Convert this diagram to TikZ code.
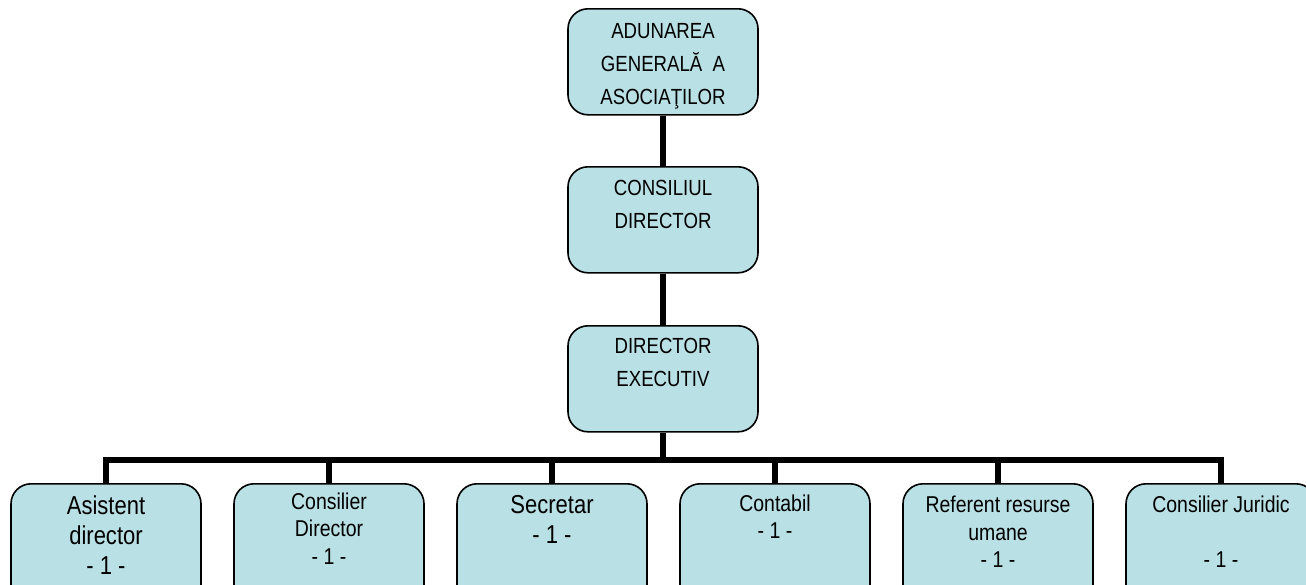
\documentclass[tikz,border=0pt]{standalone}
\usepackage{fontspec}
\setmainfont{Liberation Sans}[FakeStretch=0.85]
\usetikzlibrary{calc}

\definecolor{boxfill}{RGB}{185,224,228}

% text block at the top of a box: height, gap above first line, text
\newcommand{\boxtxt}[3]{\parbox[c][#1][t]{184pt}{\centering\vspace*{#2}#3}}

\begin{document}
\begin{tikzpicture}[x=1pt,y=-1pt,
	orgbox/.style={draw=black,line width=1.6pt,fill=boxfill,rounded corners=20pt,
		minimum width=190pt,inner sep=0pt,anchor=north},
	bigfont/.style={font=\fontsize{21.9}{33}\selectfont},
	link/.style={draw=black,line width=6pt,line join=miter}]

	\useasboundingbox (0,0) rectangle (1306,584);
	
	
	
	% upper chain
	\node[orgbox,bigfont] (ag) at (663,8) {\boxtxt{106pt}{14.3pt}{ADUNAREA\\GENERALĂ \ A\\ASOCIAŢILOR}};
	\node[orgbox,bigfont] (cd) at (663,166) {\boxtxt{106pt}{13.3pt}{CONSILIUL\\DIRECTOR}};
	\node[orgbox,bigfont] (de) at (663,325) {\boxtxt{106pt}{12.3pt}{DIRECTOR\\EXECUTIV}};
	
	
	
	% staff row
	\node[orgbox,font=\fontsize{25.9}{30}\selectfont] (asist) at (106,483) {\boxtxt{125pt}{11.5pt}{Asistent\\director\\- 1 -}};
	\node[orgbox,font=\fontsize{22.9}{27.5}\selectfont] (consdir) at (329,483) {\boxtxt{125pt}{8.6pt}{Consilier\\Director\\- 1 -}};
	\node[orgbox,font=\fontsize{25.9}{30}\selectfont] (secr) at (552,483) {\boxtxt{125pt}{11.5pt}{Secretar\\- 1 -}};
	\node[orgbox,font=\fontsize{22.9}{27}\selectfont] (cont) at (775,483) {\boxtxt{125pt}{11.3pt}{Contabil\\- 1 -}};
	\node[orgbox,font=\fontsize{22.9}{27.5}\selectfont] (ref) at (998,483) {\boxtxt{125pt}{12.3pt}{Referent resurse\\umane\\- 1 -}};
	\node[orgbox,font=\fontsize{22.9}{27.5}\selectfont] (jur) at (1221,483) {\boxtxt{125pt}{12.3pt}{Consilier Juridic\\~\\- 1 -}};
	
	
	
	% links
	\draw[link] (ag.south) -- (cd.north);
	\draw[link] (cd.south) -- (de.north);
	\draw[link] (de.south) -- ++(0,27) coordinate (bus);
	\foreach \n in {asist,consdir,secr,cont,ref,jur}
		\draw[link] (bus) -| (\n.north);

\end{tikzpicture}
\end{document}
